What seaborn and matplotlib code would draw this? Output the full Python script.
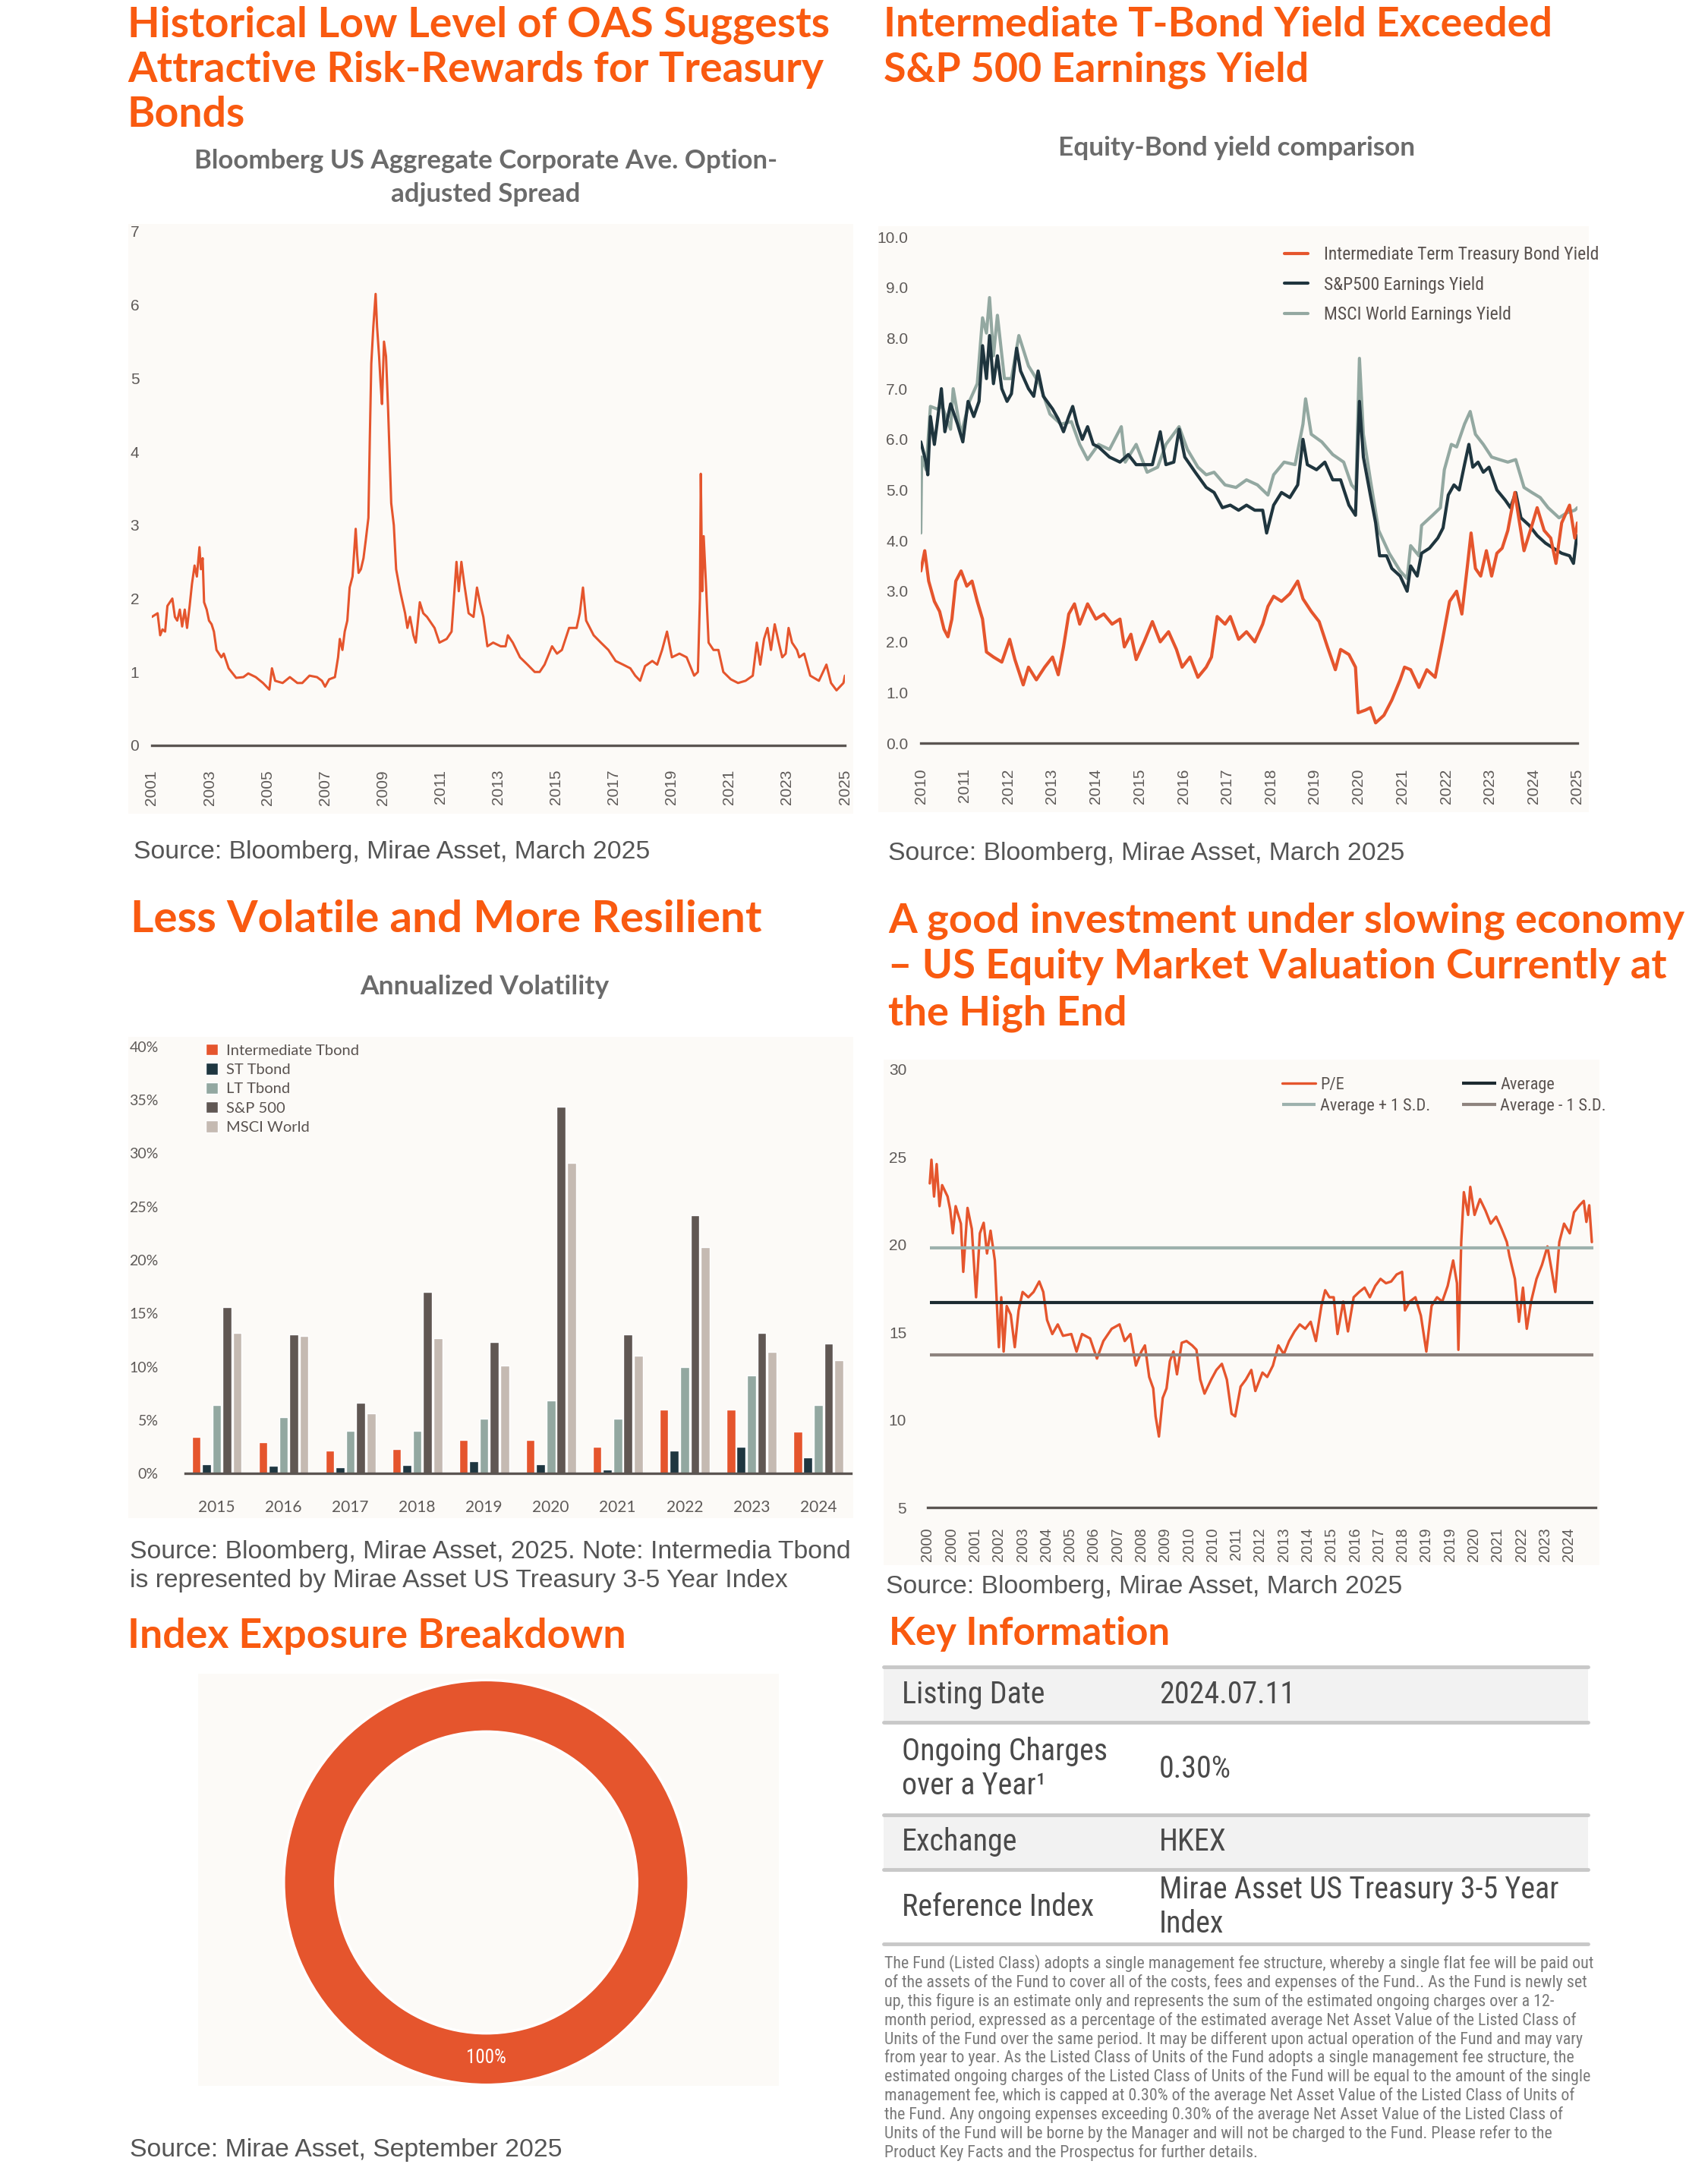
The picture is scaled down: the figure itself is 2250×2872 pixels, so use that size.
import matplotlib
matplotlib.use('Agg')
import matplotlib.pyplot as plt
from matplotlib import font_manager
from matplotlib.patches import Rectangle
import pandas as pd
import seaborn as sns

W, H = 2250, 2872

# ---------------- data ----------------
oas_year = [2001.00, 2001.20, 2001.29, 2001.37, 2001.46, 2001.54, 2001.71, 2001.80, 2001.88, 2001.97,
            2002.05, 2002.14, 2002.22, 2002.31, 2002.39, 2002.48, 2002.56, 2002.65, 2002.70, 2002.76,
            2002.81, 2002.90, 2002.98, 2003.07, 2003.15, 2003.24, 2003.41, 2003.49, 2003.66, 2003.92,
            2004.17, 2004.34, 2004.60, 2004.85, 2005.07, 2005.16, 2005.27, 2005.53, 2005.78, 2006.04,
            2006.21, 2006.46, 2006.72, 2006.89, 2007.00, 2007.14, 2007.34, 2007.45, 2007.51, 2007.60,
            2007.68, 2007.77, 2007.85, 2007.95, 2008.06, 2008.11, 2008.16, 2008.24, 2008.33, 2008.41,
            2008.50, 2008.55, 2008.60, 2008.67, 2008.75, 2008.80, 2008.87, 2008.92, 2008.97, 2009.04,
            2009.11, 2009.18, 2009.23, 2009.29, 2009.38, 2009.46, 2009.60, 2009.77, 2009.85, 2009.94,
            2010.06, 2010.14, 2010.28, 2010.40, 2010.53, 2010.79, 2010.96, 2011.21, 2011.38, 2011.46,
            2011.55, 2011.63, 2011.72, 2011.82, 2011.97, 2012.14, 2012.26, 2012.36, 2012.48, 2012.62,
            2012.82, 2013.08, 2013.25, 2013.33, 2013.50, 2013.75, 2014.01, 2014.26, 2014.43, 2014.60,
            2014.86, 2015.03, 2015.20, 2015.45, 2015.71, 2015.82, 2015.93, 2016.04, 2016.30, 2016.55,
            2016.81, 2017.06, 2017.32, 2017.57, 2017.74, 2017.91, 2018.08, 2018.33, 2018.50, 2018.67,
            2018.84, 2019.01, 2019.27, 2019.52, 2019.78, 2019.91, 2019.98, 2020.01, 2020.06, 2020.11,
            2020.20, 2020.28, 2020.45, 2020.62, 2020.79, 2021.05, 2021.30, 2021.56, 2021.81, 2021.95,
            2022.07, 2022.20, 2022.32, 2022.44, 2022.57, 2022.71, 2022.83, 2022.95, 2023.05, 2023.17,
            2023.34, 2023.42, 2023.59, 2023.80, 2024.10, 2024.36, 2024.52, 2024.71, 2024.95, 2025.00]
oas_value = [1.75, 1.80, 1.50, 1.58, 1.55, 1.90, 2.00, 1.75, 1.70, 1.85,
             1.62, 1.85, 1.60, 1.90, 2.20, 2.45, 2.30, 2.70, 2.40, 2.55,
             1.95, 1.85, 1.70, 1.65, 1.55, 1.30, 1.20, 1.25, 1.05, 0.92,
             0.93, 0.98, 0.93, 0.85, 0.76, 1.05, 0.88, 0.85, 0.93, 0.85,
             0.85, 0.95, 0.93, 0.88, 0.80, 0.90, 0.93, 1.20, 1.45, 1.30,
             1.55, 1.70, 2.15, 2.30, 2.95, 2.60, 2.35, 2.40, 2.55, 2.80,
             3.10, 4.20, 5.20, 5.70, 6.15, 5.70, 5.30, 4.95, 4.65, 5.50,
             5.30, 4.60, 4.00, 3.30, 3.00, 2.40, 2.10, 1.80, 1.60, 1.75,
             1.50, 1.40, 1.95, 1.80, 1.75, 1.60, 1.40, 1.45, 1.55, 2.00,
             2.50, 2.10, 2.50, 2.20, 1.80, 1.75, 2.15, 1.95, 1.75, 1.35,
             1.40, 1.35, 1.35, 1.50, 1.40, 1.20, 1.10, 1.00, 1.00, 1.10,
             1.35, 1.25, 1.30, 1.60, 1.60, 1.80, 2.15, 1.70, 1.50, 1.40,
             1.30, 1.15, 1.10, 1.05, 0.95, 0.88, 1.08, 1.15, 1.10, 1.30,
             1.55, 1.20, 1.25, 1.20, 0.95, 1.00, 2.00, 3.70, 2.10, 2.85,
             2.10, 1.40, 1.30, 1.30, 1.00, 0.90, 0.85, 0.88, 0.95, 1.40,
             1.10, 1.45, 1.60, 1.30, 1.65, 1.40, 1.20, 1.25, 1.60, 1.40,
             1.30, 1.20, 1.25, 0.95, 0.88, 1.10, 0.85, 0.75, 0.85, 0.95]
oas_ticks = list(range(2001, 2026, 2))

tsy_year = [2010.00, 2010.09, 2010.18, 2010.31, 2010.43, 2010.53, 2010.62, 2010.71, 2010.80, 2010.92,
            2011.05, 2011.17, 2011.29, 2011.41, 2011.50, 2011.66, 2011.85, 2012.03, 2012.15, 2012.34,
            2012.46, 2012.64, 2012.83, 2013.01, 2013.14, 2013.26, 2013.38, 2013.51, 2013.63, 2013.81,
            2014.00, 2014.18, 2014.37, 2014.55, 2014.65, 2014.80, 2014.92, 2015.10, 2015.29, 2015.47,
            2015.66, 2015.84, 2015.97, 2016.15, 2016.33, 2016.52, 2016.64, 2016.77, 2016.95, 2017.07,
            2017.26, 2017.44, 2017.63, 2017.81, 2017.93, 2018.06, 2018.24, 2018.43, 2018.61, 2018.73,
            2018.92, 2019.10, 2019.29, 2019.47, 2019.59, 2019.78, 2019.93, 2019.99, 2020.15, 2020.27,
            2020.39, 2020.58, 2020.76, 2020.95, 2021.05, 2021.19, 2021.38, 2021.56, 2021.75, 2021.91,
            2022.08, 2022.24, 2022.36, 2022.48, 2022.57, 2022.67, 2022.79, 2022.92, 2023.04, 2023.16,
            2023.28, 2023.41, 2023.57, 2023.65, 2023.78, 2023.96, 2024.08, 2024.24, 2024.39, 2024.51,
            2024.64, 2024.82, 2024.94, 2025.00]
tsy_value = [3.40, 3.80, 3.20, 2.80, 2.60, 2.25, 2.10, 2.45, 3.20, 3.40,
             3.10, 3.20, 2.80, 2.45, 1.80, 1.70, 1.60, 2.05, 1.65, 1.15,
             1.50, 1.25, 1.50, 1.70, 1.35, 1.90, 2.55, 2.75, 2.35, 2.75,
             2.45, 2.55, 2.35, 2.45, 1.90, 2.15, 1.65, 2.00, 2.40, 2.00,
             2.20, 1.85, 1.50, 1.70, 1.30, 1.50, 1.70, 2.50, 2.35, 2.50,
             2.05, 2.20, 2.00, 2.35, 2.70, 2.90, 2.80, 2.95, 3.20, 2.85,
             2.60, 2.40, 1.90, 1.45, 1.85, 1.75, 1.50, 0.60, 0.65, 0.70,
             0.40, 0.55, 0.85, 1.25, 1.50, 1.45, 1.10, 1.45, 1.30, 2.00,
             2.80, 3.00, 2.55, 3.45, 4.15, 3.45, 3.30, 3.80, 3.30, 3.75,
             3.85, 4.20, 4.95, 4.50, 3.80, 4.30, 4.65, 4.20, 4.05, 3.55,
             4.35, 4.70, 4.05, 4.35]

spx_year = [2010.00, 2010.12, 2010.16, 2010.22, 2010.31, 2010.37, 2010.47, 2010.55, 2010.68, 2010.84,
            2010.96, 2011.08, 2011.21, 2011.33, 2011.41, 2011.50, 2011.57, 2011.66, 2011.75, 2011.85,
            2011.97, 2012.07, 2012.19, 2012.28, 2012.46, 2012.58, 2012.68, 2012.80, 2013.01, 2013.14,
            2013.26, 2013.38, 2013.47, 2013.57, 2013.69, 2013.81, 2013.94, 2014.06, 2014.31, 2014.55,
            2014.74, 2014.92, 2015.10, 2015.29, 2015.47, 2015.60, 2015.78, 2015.90, 2016.03, 2016.27,
            2016.52, 2016.70, 2016.89, 2017.07, 2017.26, 2017.44, 2017.63, 2017.81, 2017.90, 2018.06,
            2018.24, 2018.43, 2018.61, 2018.73, 2018.83, 2019.04, 2019.23, 2019.41, 2019.59, 2019.78,
            2019.93, 2020.02, 2020.11, 2020.27, 2020.39, 2020.48, 2020.64, 2020.76, 2020.95, 2021.11,
            2021.19, 2021.34, 2021.44, 2021.62, 2021.81, 2021.93, 2022.05, 2022.18, 2022.30, 2022.42,
            2022.52, 2022.61, 2022.73, 2022.85, 2022.98, 2023.16, 2023.35, 2023.47, 2023.59, 2023.71,
            2023.90, 2024.08, 2024.27, 2024.45, 2024.64, 2024.82, 2024.91, 2024.98, 2025.00]
spx_value = [5.95, 5.55, 5.30, 6.45, 5.90, 6.30, 7.00, 6.15, 6.70, 6.30,
             5.95, 6.75, 6.45, 6.75, 7.85, 7.20, 8.05, 7.10, 7.65, 7.00,
             6.75, 6.90, 7.80, 7.35, 7.00, 6.85, 7.35, 6.85, 6.60, 6.40,
             6.15, 6.45, 6.65, 6.30, 6.00, 6.25, 5.90, 5.85, 5.65, 5.55,
             5.70, 5.50, 5.50, 5.50, 6.15, 5.50, 5.55, 6.20, 5.65, 5.35,
             5.05, 4.95, 4.65, 4.70, 4.60, 4.70, 4.60, 4.60, 4.15, 4.70,
             4.95, 4.85, 5.10, 6.00, 5.50, 5.40, 5.55, 5.20, 5.20, 4.70,
             4.50, 6.75, 5.65, 4.90, 4.35, 3.70, 3.70, 3.45, 3.30, 3.00,
             3.50, 3.30, 3.75, 3.85, 4.05, 4.25, 4.90, 5.10, 5.00, 5.50,
             5.90, 5.45, 5.55, 5.35, 5.45, 5.00, 4.80, 4.65, 4.95, 4.45,
             4.30, 4.10, 3.95, 3.85, 3.75, 3.70, 3.55, 4.05, 4.10]

msci_year = [2010.00, 2010.02, 2010.12, 2010.22, 2010.37, 2010.49, 2010.68, 2010.74, 2010.92, 2011.11,
             2011.29, 2011.41, 2011.50, 2011.57, 2011.66, 2011.75, 2011.91, 2012.07, 2012.24, 2012.46,
             2012.71, 2012.95, 2013.20, 2013.44, 2013.63, 2013.81, 2014.06, 2014.31, 2014.58, 2014.67,
             2014.92, 2015.17, 2015.41, 2015.60, 2015.90, 2016.09, 2016.33, 2016.52, 2016.70, 2016.95,
             2017.20, 2017.44, 2017.69, 2017.93, 2018.06, 2018.30, 2018.55, 2018.73, 2018.79, 2018.92,
             2019.16, 2019.41, 2019.66, 2019.84, 2019.94, 2020.02, 2020.11, 2020.27, 2020.46, 2020.70,
             2020.95, 2021.11, 2021.19, 2021.38, 2021.44, 2021.69, 2021.87, 2021.96, 2022.12, 2022.24,
             2022.42, 2022.55, 2022.67, 2022.85, 2023.04, 2023.22, 2023.41, 2023.59, 2023.78, 2023.96,
             2024.15, 2024.33, 2024.58, 2024.76, 2024.94, 2025.00]
msci_value = [4.15, 5.65, 5.40, 6.65, 6.60, 6.65, 6.20, 7.00, 6.10, 6.75,
              7.10, 8.40, 8.10, 8.80, 7.65, 8.45, 7.20, 7.20, 8.05, 7.45,
              7.10, 6.50, 6.30, 6.35, 5.90, 5.60, 5.90, 5.80, 6.25, 5.55,
              5.90, 5.35, 5.45, 5.90, 6.25, 5.80, 5.45, 5.30, 5.35, 5.10,
              5.05, 5.20, 5.10, 4.90, 5.30, 5.55, 5.50, 6.30, 6.80, 6.10,
              5.95, 5.70, 5.55, 5.10, 5.00, 7.60, 6.10, 5.20, 4.20, 3.75,
              3.40, 3.25, 3.90, 3.70, 4.30, 4.50, 4.65, 5.40, 5.90, 5.85,
              6.30, 6.55, 6.10, 5.90, 5.65, 5.60, 5.55, 5.60, 5.05, 4.95,
              4.85, 4.65, 4.45, 4.55, 4.60, 4.65]
yield_ticks = list(range(2010, 2026))

vol_years = ['2015', '2016', '2017', '2018', '2019', '2020', '2021', '2022', '2023', '2024']
vol_series = ['Intermediate Tbond', 'ST Tbond', 'LT Tbond', 'S&P 500', 'MSCI World']
vol_int = [3.4, 2.95, 2.15, 2.3, 3.1, 3.1, 2.5, 5.95, 5.95, 3.9]
vol_st = [0.85, 0.7, 0.55, 0.75, 1.15, 0.85, 0.35, 2.15, 2.5, 1.5]
vol_lt = [6.4, 5.3, 4.0, 4.0, 5.1, 6.8, 5.1, 10.0, 9.15, 6.4]
vol_spx = [15.6, 13.0, 6.6, 17.0, 12.3, 34.4, 13.0, 24.2, 13.15, 12.2]
vol_msci = [13.2, 12.85, 5.65, 12.7, 10.1, 29.1, 11.05, 21.2, 11.4, 10.6]

pe_t = [0.09, 0.16, 0.27, 0.38, 0.50, 0.61, 0.84, 0.95, 1.06, 1.18, 1.40, 1.50, 1.68, 1.86, 2.04,
        2.20, 2.36, 2.50, 2.65, 2.83, 3.00, 3.10, 3.20, 3.33, 3.50, 3.67, 3.83, 4.00, 4.24, 4.46,
        4.70, 4.87, 5.03, 5.25, 5.48, 5.70, 6.05, 6.27, 6.50, 6.84, 7.13, 7.40, 7.75, 8.08, 8.30,
        8.54, 8.77, 9.00, 9.15, 9.33, 9.50, 9.60, 9.74, 9.90, 10.06, 10.20, 10.35, 10.50, 10.70, 10.90,
        11.14, 11.32, 11.48, 11.66, 11.94, 12.16, 12.39, 12.60, 12.80, 12.95, 13.18, 13.40, 13.63, 13.80,
        14.10, 14.30, 14.54, 14.77, 15.00, 15.22, 15.45, 15.67, 15.90, 16.13, 16.35, 16.58, 16.74, 16.92,
        17.10, 17.26, 17.50, 17.70, 17.94, 18.17, 18.40, 18.62, 18.85, 19.07, 19.30, 19.52, 19.75, 19.98,
        20.10, 20.30, 20.54, 20.77, 21.00, 21.22, 21.45, 21.67, 21.90, 22.13, 22.29, 22.35, 22.47, 22.58,
        22.76, 22.85, 23.03, 23.26, 23.49, 23.71, 23.94, 24.17, 24.39, 24.50, 24.73, 24.90, 25.07, 25.23,
        25.41, 25.64, 25.87, 26.10, 26.27, 26.43, 26.60, 26.80, 27.04, 27.22, 27.45, 27.63, 27.74, 27.86,
        27.97]
pe_value = [23.5, 24.85, 22.75, 24.6, 22.2, 23.4, 22.75, 22.0, 20.65, 22.2, 21.2, 18.45, 22.1, 20.9, 17.0,
            20.65, 21.25, 19.5, 20.8, 19.1, 14.15, 17.0, 13.9, 16.5, 16.0, 14.15, 16.25, 17.3, 17.0, 17.3,
            17.9, 17.3, 15.7, 14.9, 15.45, 14.8, 14.9, 13.9, 14.9, 14.65, 13.5, 14.5, 15.2, 15.45, 14.5,
            14.9, 13.1, 13.9, 14.25, 12.45, 11.8, 10.2, 9.05, 11.25, 11.8, 13.35, 13.9, 12.6, 14.4, 14.5,
            14.25, 14.0, 12.3, 11.5, 12.3, 12.85, 13.2, 12.3, 10.35, 10.2, 11.9, 12.3, 12.85, 11.65,
            12.7, 12.45, 13.1, 14.25, 13.75, 14.5, 15.05, 15.45, 15.2, 15.6, 14.5, 16.5, 17.4, 17.0,
            17.0, 14.9, 16.75, 15.05, 17.0, 17.3, 17.55, 17.0, 17.65, 18.05, 17.8, 17.9, 18.3, 18.45,
            16.25, 16.75, 17.0, 15.95, 13.9, 16.5, 17.0, 16.75, 17.65, 19.1, 17.8, 14.0, 20.15, 23.0,
            21.7, 23.3, 21.7, 22.6, 21.95, 21.2, 21.6, 20.9, 20.15, 19.35, 18.05, 15.6, 17.55, 15.2,
            16.75, 18.05, 18.85, 19.9, 18.6, 17.3, 20.15, 21.2, 20.65, 21.85, 22.25, 22.5, 21.3, 22.25,
            20.15]
pe_average = 16.7
pe_plus_sd = 19.8
pe_minus_sd = 13.7
pe_labels = ['2000', '2000', '2001', '2002', '2003', '2004', '2005', '2006', '2007', '2008',
             '2009', '2010', '2010', '2011', '2012', '2013', '2014', '2015', '2016', '2017',
             '2018', '2019', '2019', '2020', '2021', '2022', '2023', '2024']

exposure_labels = ['US Treasury 3-5 Year']
exposure_share = [100]

info_keys = ['Listing Date', 'Ongoing Charges\nover a Year\u00b9', 'Exchange', 'Reference Index']
info_values = ['2024.07.11', '0.30%', 'HKEX', 'Mirae Asset US Treasury 3-5 Year\nIndex']
footnote = [
    "The Fund (Listed Class) adopts a single management fee structure, whereby a single flat fee will be paid out",
    "of the assets of the Fund to cover all of the costs, fees and expenses of the Fund.. As the Fund is newly set",
    "up, this figure is an estimate only and represents the sum of the estimated ongoing charges over a 12-",
    "month period, expressed as a percentage of the estimated average Net Asset Value of the Listed Class of",
    "Units of the Fund over the same period. It may be different upon actual operation of the Fund and may vary",
    "from year to year. As the Listed Class of Units of the Fund adopts a single management fee structure, the",
    "estimated ongoing charges of the Listed Class of Units of the Fund will be equal to the amount of the single",
    "management fee, which is capped at 0.30% of the average Net Asset Value of the Listed Class of Units of",
    "the Fund. Any ongoing expenses exceeding 0.30% of the average Net Asset Value of the Listed Class of",
    "Units of the Fund will be borne by the Manager and will not be charged to the Fund. Please refer to the",
    "Product Key Facts and the Prospectus for further details.",
]

# ---------------- style ----------------
sns.set_theme(style='white')
plt.rcParams['font.family'] = ['Lato', 'DejaVu Sans']
ARIAL = ['Liberation Sans', 'DejaVu Sans']

# a condensed face for the table and legends, if one is installed
font_names = {f.name for f in font_manager.fontManager.ttflist}
narrow_kw = dict(family=ARIAL)
for cand in ['Liberation Sans Narrow', 'Arial Narrow', 'Roboto Condensed', 'Open Sans Condensed']:
    if cand in font_names:
        narrow_kw = dict(family=[cand, 'DejaVu Sans'])
        break
else:
    for fam in ['Noto Sans', 'Open Sans', 'Roboto', 'DejaVu Sans']:
        if any(f.name == fam and f.stretch == 'condensed' and f.style == 'normal'
               for f in font_manager.fontManager.ttflist):
            narrow_kw = dict(family=[fam], fontstretch='condensed')
            break
narrow_prop = {'family': narrow_kw['family']}
if 'fontstretch' in narrow_kw:
    narrow_prop['stretch'] = narrow_kw['fontstretch']

TITLE_C = '#F95A10'
SUB_C = '#6B6B6B'
SRC_C = '#555555'
TICK_C = '#5E5A58'
AXIS_C = '#5B5552'
PANEL_C = '#FCFAF7'
ORANGE = '#E5552D'
DARK = '#1F353E'
SAGE = '#93A8A1'
bar_colors = [ORANGE, '#1E3640', SAGE, '#605753', '#C5BAB2']

fig = plt.figure(figsize=(W / 100, H / 100), dpi=100)
fig.patch.set_facecolor('white')
renderer = fig.canvas.get_renderer()


def box(x0, y0, x1, y1):
    return fig.add_axes([x0 / W, 1 - y1 / H, (x1 - x0) / W, (y1 - y0) / H])


def panel(x0, y0, x1, y1):
    fig.patches.append(Rectangle((x0 / W, 1 - y1 / H), (x1 - x0) / W, (y1 - y0) / H,
                                 transform=fig.transFigure, facecolor=PANEL_C,
                                 edgecolor='none', zorder=-10))


def fit_size(s, width, **kw):
    t = fig.text(0, 0, s, fontsize=20, **kw)
    w = t.get_window_extent(renderer).width
    t.remove()
    return 20 * width / w


def txt(x, y, s, **kw):
    return fig.text(x / W, 1 - y / H, s, **kw)


def lines_text(x, y_list, rows, size, **kw):
    for y, s in zip(y_list, rows):
        txt(x, y, s, fontsize=size, va='center', **kw)


def style_axes(ax):
    ax.set_facecolor('none')
    for side in ['top', 'right', 'left']:
        ax.spines[side].set_visible(False)
    ax.spines['bottom'].set_color(AXIS_C)
    ax.spines['bottom'].set_linewidth(2.4)
    ax.tick_params(length=0, colors=TICK_C)
    ax.set_xlabel('')
    ax.set_ylabel('')


title_kw = dict(color=TITLE_C, fontweight='bold', family=['Lato', 'DejaVu Sans'])
sub_kw = dict(color=SUB_C, fontweight='bold', family=['Lato', 'DejaVu Sans'])
src_kw = dict(color=SRC_C, family=ARIAL)
tick_kw = dict(family=ARIAL, fontsize=15)

# ---------------- panel 1 : OAS ----------------
s = fit_size('Attractive Risk-Rewards for Treasury', 917, **title_kw)
lines_text(168, [33, 92, 151], ['Historical Low Level of OAS Suggests',
                                'Attractive Risk-Rewards for Treasury', 'Bonds'], s, **title_kw)
s = fit_size('Bloomberg US Aggregate Corporate Ave. Option-', 768, **sub_kw)
for y, line in zip([212, 256], ['Bloomberg US Aggregate Corporate Ave. Option-', 'adjusted Spread']):
    txt(640, y, line, fontsize=s, ha='center', va='center', **sub_kw)
panel(169, 295, 1124, 1072)
ax1 = box(200, 305, 1113, 982)
sns.lineplot(x=oas_year, y=oas_value, ax=ax1, color=ORANGE, linewidth=2.2)
ax1.set_xlim(2001, 2025)
ax1.set_ylim(0, 7)
ax1.set_yticks(range(0, 8))
ax1.set_xticks(oas_ticks)
ax1.set_xticklabels([str(v) for v in oas_ticks], rotation=90, va='top', **tick_kw)
ax1.set_yticklabels([str(v) for v in range(0, 8)], **tick_kw)
style_axes(ax1)
ax1.tick_params(axis='y', pad=12)
ax1.tick_params(axis='x', pad=23)
s = fit_size('Source: Bloomberg, Mirae Asset, March 2025', 680, **src_kw)
txt(176, 1122, 'Source: Bloomberg, Mirae Asset, March 2025', fontsize=s, va='center', **src_kw)
src_size = s

# ---------------- panel 2 : yields ----------------
s = fit_size('Intermediate T-Bond Yield Exceeded', 881, **title_kw)
lines_text(1164, [33, 92], ['Intermediate T-Bond Yield Exceeded', 'S&P 500 Earnings Yield'], s, **title_kw)
s = fit_size('Equity-Bond yield comparison', 471, **sub_kw)
txt(1629, 195, 'Equity-Bond yield comparison', fontsize=s, ha='center', va='center', **sub_kw)
panel(1157, 298, 2093, 1070)
ax2 = box(1213, 312, 2078, 979)
sns.lineplot(x=msci_year, y=msci_value, ax=ax2, color=SAGE, linewidth=3, label='MSCI World Earnings Yield')
sns.lineplot(x=spx_year, y=spx_value, ax=ax2, color=DARK, linewidth=3, label='S&P500 Earnings Yield')
sns.lineplot(x=tsy_year, y=tsy_value, ax=ax2, color=ORANGE, linewidth=3,
             label='Intermediate Term Treasury Bond Yield')
ax2.set_xlim(2010, 2025)
ax2.set_ylim(0, 10)
ax2.set_xticks(yield_ticks)
ax2.set_xticklabels([str(v) for v in yield_ticks], rotation=90, va='top', **tick_kw)
ax2.set_yticks(range(0, 11))
ax2.set_yticklabels([f'{v:.1f}' for v in range(0, 11)], **tick_kw)
style_axes(ax2)
ax2.tick_params(axis='y', pad=12)
ax2.tick_params(axis='x', pad=24)
handles, labels = ax2.get_legend_handles_labels()
ax2.legend(handles[::-1], labels[::-1], loc='upper left', bbox_to_anchor=(1692 / W, 1 - 324 / H),
           bbox_transform=fig.transFigure, frameon=False, borderpad=0, borderaxespad=0,
           handlelength=1.3, handletextpad=0.9, labelspacing=0.7,
           prop=dict(narrow_prop, size=17), labelcolor='#5A5350')
txt(1170, 1124, 'Source: Bloomberg, Mirae Asset, March 2025', fontsize=src_size, va='center', **src_kw)

# ---------------- panel 3 : volatility bars ----------------
s = fit_size('Less Volatile and More Resilient', 832, **title_kw)
lines_text(172, [1211], ['Less Volatile and More Resilient'], s, **title_kw)
s = fit_size('Annualized Volatility', 327, **sub_kw)
txt(638, 1300, 'Annualized Volatility', fontsize=s, ha='center', va='center', **sub_kw)
panel(169, 1366, 1124, 2000)
vol_df = pd.DataFrame({
    'year': vol_years * 5,
    'series': sum([[name] * len(vol_years) for name in vol_series], []),
    'value': vol_int + vol_st + vol_lt + vol_spx + vol_msci,
})
ax3 = box(243.5, 1379, 1121, 1941)
sns.barplot(data=vol_df, x='year', y='value', hue='series', hue_order=vol_series,
            palette=bar_colors, width=0.77, gap=0.14, ax=ax3, saturation=1)
ax3.set_xlim(-0.477, 9.49)
ax3.set_ylim(0, 40)
ax3.set_yticks(range(0, 41, 5))
ax3.set_yticklabels([f'{v}%' for v in range(0, 41, 5)], fontsize=14)
ax3.set_xticks(range(len(vol_years)))
ax3.set_xticklabels(vol_years, fontsize=15)
style_axes(ax3)
ax3.tick_params(axis='y', pad=25)
ax3.tick_params(axis='x', pad=25)
handles, labels = ax3.get_legend_handles_labels()
ax3.legend(handles, labels, loc='upper left', bbox_to_anchor=(271 / W, 1 - 1375 / H),
           bbox_transform=fig.transFigure, frameon=False, borderpad=0, borderaxespad=0,
           handlelength=0.8, handleheight=0.8, handletextpad=0.55, labelspacing=0.38,
           prop={'family': ['Lato', 'DejaVu Sans'], 'size': 14.5}, labelcolor='#5A5350')
txt(171, 2044, 'Source: Bloomberg, Mirae Asset, 2025. Note: Intermedia Tbond',
    fontsize=src_size, va='center', **src_kw)
txt(171, 2082, 'is represented by Mirae Asset US Treasury 3-5 Year Index',
    fontsize=src_size, va='center', **src_kw)

# ---------------- panel 4 : P/E ----------------
pe_title = ['A good investment under slowing economy',
            '\u2013 US Equity Market Valuation Currently at', 'the High End']
s = fit_size(pe_title[0], 1047, **title_kw)
lines_text(1170, [1213, 1274, 1335], pe_title, s, **title_kw)
panel(1164, 1396, 2107, 2062)
ax4 = box(1222, 1409, 2102, 1986)
sns.lineplot(x=pe_t, y=pe_value, ax=ax4, color=ORANGE, linewidth=2.4, label='P/E')
ax4.hlines(pe_plus_sd, 0.1, 28.05, color='#9DB1AD', linewidth=3, label='Average + 1 S.D.')
ax4.hlines(pe_average, 0.1, 28.05, color='#1C2A30', linewidth=3, label='Average')
ax4.hlines(pe_minus_sd, 0.1, 28.05, color='#8E837E', linewidth=3, label='Average - 1 S.D.')
ax4.set_xlim(0, 28.13)
ax4.set_ylim(5, 30)
ax4.set_yticks(range(5, 31, 5))
ax4.set_yticklabels([str(v) for v in range(5, 31, 5)], **tick_kw)
ax4.set_xticks(range(len(pe_labels)))
ax4.set_xticklabels(pe_labels, rotation=90, va='top', family=ARIAL, fontsize=14.5)
style_axes(ax4)
ax4.tick_params(axis='y', pad=20)
ax4.tick_params(axis='x', pad=19)
handles, labels = ax4.get_legend_handles_labels()
order = [labels.index(n) for n in ['P/E', 'Average + 1 S.D.', 'Average', 'Average - 1 S.D.']]
ax4.legend([handles[i] for i in order], [labels[i] for i in order], ncol=2, loc='upper left',
           bbox_to_anchor=(1689 / W, 1 - 1419 / H), bbox_transform=fig.transFigure,
           frameon=False, borderpad=0, borderaxespad=0, handlelength=2.0, handletextpad=0.25,
           labelspacing=0.3, columnspacing=1.9,
           prop=dict(narrow_prop, size=16), labelcolor='#5A5350')
txt(1167, 2090, 'Source: Bloomberg, Mirae Asset, March 2025', fontsize=src_size, va='center', **src_kw)

# ---------------- panel 5 : donut ----------------
s = fit_size('Index Exposure Breakdown', 656, **title_kw)
lines_text(168, [2155], ['Index Exposure Breakdown'], s, **title_kw)
panel(261, 2205, 1026, 2748)
ax5 = box(372.5, 2212, 908.5, 2748)
ax5.pie(exposure_share, colors=[ORANGE], startangle=90, counterclock=False,
        autopct='%.0f%%', pctdistance=0.865,
        wedgeprops=dict(width=0.255, edgecolor='white', linewidth=2.5),
        textprops=dict(color='white', fontsize=18, **narrow_kw))
ax5.set_xlim(-1.005, 1.005)
ax5.set_ylim(-1.005, 1.005)
ax5.set_aspect('equal')
ax5.set_facecolor('none')
ax5.axis('off')
txt(171, 2833, 'Source: Mirae Asset, September 2025', fontsize=src_size, va='center', **src_kw)

# ---------------- panel 6 : key information ----------------
s = fit_size('Key Information', 369, **title_kw)
lines_text(1171, [2153], ['Key Information'], s, **title_kw)
rules = [2196, 2269, 2391, 2463, 2561]
for i in (0, 2):
    fig.patches.append(Rectangle((1164 / W, 1 - rules[i + 1] / H), (2092 - 1164) / W,
                                 (rules[i + 1] - rules[i]) / H, transform=fig.transFigure,
                                 facecolor='#F2F2F2', edgecolor='none', zorder=-5))
for y in rules:
    fig.add_artist(plt.Line2D([1164 / W, 2092 / W], [1 - y / H, 1 - y / H],
                              color='#C8C8C8', linewidth=3.5, transform=fig.transFigure))
tab_kw = dict(color='#4A4A4A', **narrow_kw)
s = fit_size('Mirae Asset US Treasury 3-5 Year', 525, **tab_kw)
for i, (k, v) in enumerate(zip(info_keys, info_values)):
    yc = (rules[i] + rules[i + 1]) / 2
    txt(1188, yc, k, fontsize=s, va='center', linespacing=1.2, **tab_kw)
    txt(1527, yc, v, fontsize=s, va='center', linespacing=1.2, **tab_kw)
fn_kw = dict(color='#7A7A7A', **narrow_kw)
s = fit_size(footnote[0], 933, **fn_kw)
for i, line in enumerate(footnote):
    txt(1165, 2587 + i * 24.9, line, fontsize=s, va='center', **fn_kw)

fig.savefig('out.png', dpi=100)
